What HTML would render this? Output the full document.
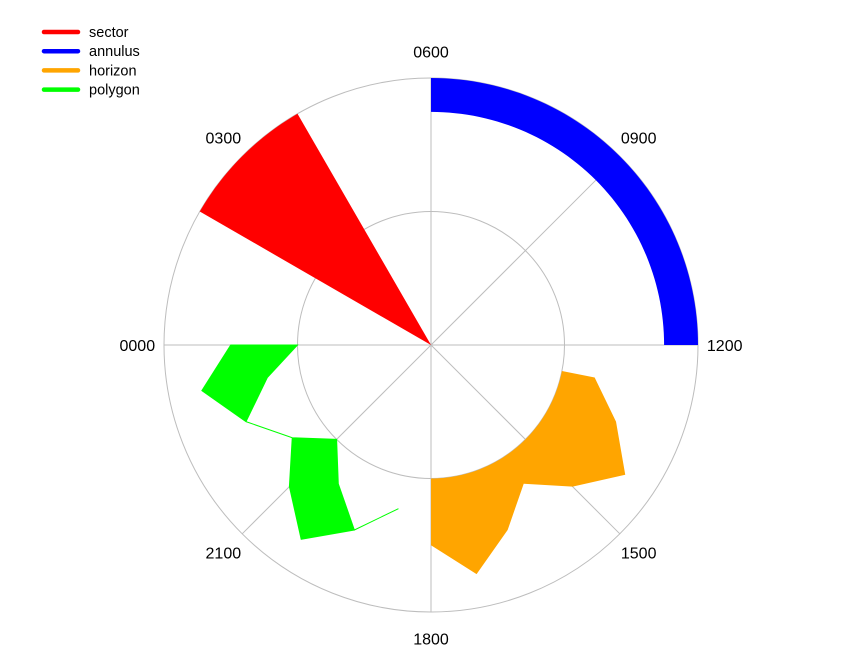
<!DOCTYPE html>
<html><head><meta charset="utf-8"><style>
html,body{margin:0;padding:0;background:#fff;}
svg{display:block;font-family:"Liberation Sans",Arial,sans-serif;}
</style></head><body>
<svg id="chart" width="864" height="672"></svg>
<script>
const hourLabels = ["0000","0300","0600","0900","1200","1500","1800","2100"];
const labelHours = [0,3,6,9,12,15,18,21];
const sectorHours = [2,4];
const sectorRadius = [0,1];
const annulusHours = [6,12];
const annulusRadius = [0.873,1];
const horizonHours = [12.75,13.5,14.25,15,15.75,16.5,17.25,18];
const horizonValues = [0.625,0.75,0.875,0.75,0.625,0.75,0.875,0.75];
const horizonBase = 0.5;
const polygonHours = [18.75,19.5,20.25,21,21.75,22.5,23.25,24];
const polygonOuter = [0.625,0.75,0.875,0.75,0.625,0.75,0.875,0.75];
const polygonInner = [0.625,0.75,0.625,0.5,0.625,0.75,0.625,0.5];
const gridRings = [0.5,1];
const legendNames = ["sector","annulus","horizon","polygon"];
const legendColors = ["#ff0000","#0000ff","#ffa500","#00ff00"];

const NS="http://www.w3.org/2000/svg";
const svg=document.getElementById('chart');
const cx=431, cy=345, R=267;
function ang(h){return (180-15*h)*Math.PI/180;}
function rad(v){return v*R;}
function pt(h,v){const a=ang(h);return [cx+rad(v)*Math.cos(a), cy-rad(v)*Math.sin(a)];}
function mk(tag,attrs){const e=document.createElementNS(NS,tag);for(const k in attrs)e.setAttribute(k,attrs[k]);svg.appendChild(e);return e;}
function arcPts(h0,h1,v,n){const out=[];for(let i=0;i<=n;i++){out.push(pt(h0+(h1-h0)*i/n,v));}return out;}
function P(a){return a.map(p=>p[0].toFixed(2)+","+p[1].toFixed(2)).join(" ");}

gridRings.forEach((g,i)=>{
  const c=mk('circle',{cx:cx,cy:cy,r:rad(g),fill:'none',stroke:'#bdbdbd','stroke-width':1});
  
  
});
labelHours.forEach((h,i)=>{
  const e=pt(h,1);
  const l=mk('line',{x1:cx,y1:cy,x2:e[0],y2:e[1],stroke:'#bdbdbd','stroke-width':1});
  
  
  const t=pt(h,1.1);
  const tx=mk('text',{x:t[0],y:t[1]+6,'text-anchor':'middle','font-size':16,fill:'#000'});
  tx.textContent=hourLabels[i];
  
  
});

{
  const pts=[pt(sectorHours[0],sectorRadius[0])].concat(arcPts(sectorHours[0],sectorHours[1],sectorRadius[1],30));
  const s=mk('polygon',{points:P(pts),fill:'#ff0000'});
  
  
}
{
  const pts=arcPts(annulusHours[0],annulusHours[1],annulusRadius[1],60).concat(arcPts(annulusHours[1],annulusHours[0],annulusRadius[0],60));
  const s=mk('polygon',{points:P(pts),fill:'#0000ff'});
  
  
}
{
  const n=horizonHours.length;
  let pts=[pt(horizonHours[0],horizonBase)];
  horizonHours.forEach((h,i)=>pts.push(pt(h,horizonValues[i])));
  pts=pts.concat(arcPts(horizonHours[n-1],horizonHours[0],horizonBase,60));
  const s=mk('polygon',{points:P(pts),fill:'#ffa500'});
  
  
}
{
  let pts=[];
  polygonHours.forEach((h,i)=>pts.push(pt(h,polygonOuter[i])));
  for(let i=polygonHours.length-1;i>=0;i--)pts.push(pt(polygonHours[i],polygonInner[i]));
  const s=mk('polygon',{points:P(pts),fill:'#00ff00',stroke:'#00ff00','stroke-width':1});
  
  
}
legendNames.forEach((n,i)=>{
  const y=32+i*19.2;
  const l=mk('line',{x1:44,y1:y,x2:78,y2:y,stroke:legendColors[i],'stroke-width':4.5,'stroke-linecap':'round'});
  
  
  const t=mk('text',{x:89,y:y+5,'font-size':14.5,fill:'#000'});
  t.textContent=n;
  
  
});
</script>
</body></html>
